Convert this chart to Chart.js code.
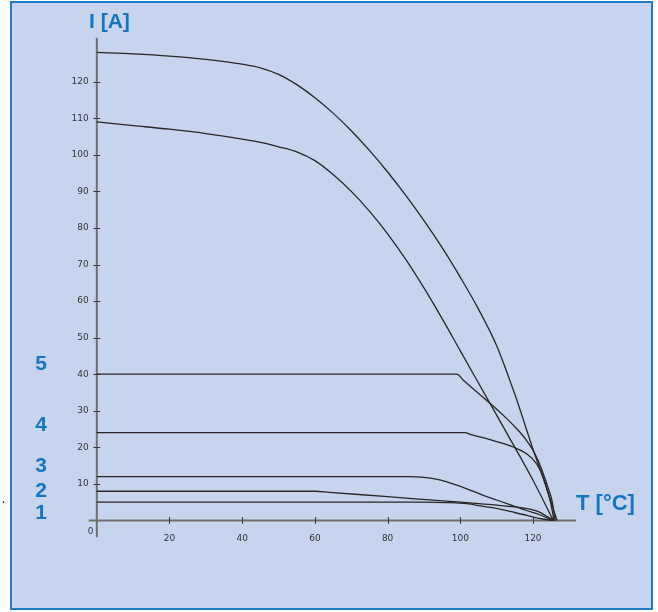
<!DOCTYPE html>
<html>
<head>
<meta charset="utf-8">
<script src="https://cdn.jsdelivr.net/npm/chart.js@4.4.0/dist/chart.umd.min.js"></script>
<style>
body{margin:0;background:#fff;width:658px;height:612px;overflow:hidden;position:relative}
#panel{position:absolute;left:10px;top:1px;width:639px;height:605px;border:2px solid #1f7bc4;background:#c6d5ed}
#c{position:absolute;left:0;top:0}
</style>
</head>
<body>
<div id="panel"></div>
<canvas id="c" width="658" height="612"></canvas>
<script>
// tick labels
var xTicks = [20, 40, 60, 80, 100, 120];
var yTicks = [10, 20, 30, 40, 50, 60, 70, 80, 90, 100, 110, 120];

// curves, [T in °C, I in A]
var curveA = [[0,128],[10,127.6],[20,127],[30,126.1],[40,124.8],[45,123.8],[50,122],[55,119.2],[60,115.6],[65,111.4],[70,106.6],[75,101.2],[80,95.3],[85,88.9],[90,82],[95,74.6],[100,66.5],[105,57.8],[110,47.8],[115,34.5],[120,19.5],[123,11],[126.6,0]];
var curveB = [[0,109],[10,108],[20,107],[30,105.8],[40,104.3],[45,103.4],[50,102.2],[55,100.8],[60,98.4],[65,94.6],[70,90],[75,84.6],[80,78.4],[85,71.4],[90,63.6],[95,55.2],[100,46.4],[105,37.6],[110,28.8],[115,20],[120,11],[125.6,0]];
var curve5 = [[0,40],[99,40],[101,38.2],[104,35.6],[108,32.2],[112,28.6],[115.5,25.1],[118,22.2],[120,19.2],[121.5,16.2],[123,12.3],[124.3,8.5],[125.2,5.5],[126.1,0]];
var curve4 = [[0,24],[101.3,24],[103,23.5],[108.2,22.1],[114.6,20.1],[118.3,18.2],[121,15.5],[122.8,11.9],[124.7,5.5],[125.8,0]];
var curve3 = [[0,12],[86,12],[90,11.8],[94,11.2],[98,10],[102,8.6],[106,7],[110,5.6],[114,4.2],[118,2.8],[122,1.5],[125.6,0]];
var curve2 = [[0,8],[60,8],[64,7.7],[80,6.5],[100,5],[105,4.6],[110,4.2],[115,3.7],[119,3.1],[121.5,2.4],[123.5,1.3],[125.8,0]];
var curve1 = [[0,5],[90,5],[96,4.9],[101.8,4.6],[106,3.9],[110.9,3.1],[114,2.4],[118.3,1.4],[121,0.7],[124,0.2],[125.5,0]];

var curveLabels = ['1', '2', '3', '4', '5'];
var curveLabelY = [519, 496.5, 471.5, 431, 369.5]; // baselines in px

function pts(a) {
    return a.map(function (p) { return {x: p[0], y: p[1]}; });
}

var axesPlugin = {
    id: 'axes',
    beforeDatasetsDraw: function (chart) {
        var ctx = chart.ctx, sx = chart.scales.x, sy = chart.scales.y;
        var x0 = sx.getPixelForValue(0), y0 = sy.getPixelForValue(0);
        ctx.save();
        // axis lines
        ctx.strokeStyle = '#6e6e6e';
        ctx.lineWidth = 2;
        ctx.beginPath();
        ctx.moveTo(x0, sy.top); ctx.lineTo(x0, sy.bottom);
        ctx.moveTo(sx.left, y0); ctx.lineTo(sx.right, y0);
        ctx.stroke();
        // tick marks
        ctx.strokeStyle = '#3a3a3a';
        ctx.lineWidth = 1;
        ctx.beginPath();
        yTicks.forEach(function (v) {
            var py = Math.round(sy.getPixelForValue(v)) + 0.5;
            ctx.moveTo(x0 - 3.5, py); ctx.lineTo(x0 + 3.5, py);
        });
        xTicks.forEach(function (v) {
            var px = Math.round(sx.getPixelForValue(v)) + 0.5;
            ctx.moveTo(px, y0 - 3.5); ctx.lineTo(px, y0 + 3.5);
        });
        ctx.stroke();
        // tick labels
        ctx.fillStyle = '#333';
        ctx.font = '9px "DejaVu Sans"';
        ctx.textAlign = 'right';
        ctx.textBaseline = 'middle';
        yTicks.forEach(function (v) {
            ctx.fillText(String(v), x0 - 8, sy.getPixelForValue(v));
        });
        ctx.textAlign = 'center';
        xTicks.forEach(function (v) {
            ctx.fillText(String(v), sx.getPixelForValue(v), y0 + 18);
        });
        ctx.fillText('0', x0 - 6.3, y0 + 11);
        ctx.restore();
    },
    afterDraw: function (chart) {
        var ctx = chart.ctx;
        ctx.save();
        ctx.fillStyle = '#1576c0';
        ctx.textBaseline = 'alphabetic';
        ctx.textAlign = 'left';
        ctx.font = 'bold 21px "Liberation Sans"';
        ctx.fillText('I [A]', 89, 27.5);
        ctx.font = 'bold 22px "Liberation Sans"';
        ctx.fillText('T [°C]', 576, 509.5);
        ctx.font = 'bold 21px "Liberation Sans"';
        ctx.textAlign = 'center';
        curveLabels.forEach(function (t, i) {
            ctx.fillText(t, 41, curveLabelY[i]);
        });
        ctx.fillStyle = '#222';
        ctx.font = '14px "Liberation Sans"';
        ctx.textAlign = 'left';
        ctx.fillText('.', 1.5, 503);
        ctx.restore();
    }
};

var myChart = new Chart(document.getElementById('c').getContext('2d'), {
    type: 'line',
    data: {
        datasets: [curveA, curveB, curve5, curve4, curve3, curve2, curve1].map(function (c) {
            return {data: pts(c)};
        })
    },
    options: {
        responsive: false,
        animation: false,
        devicePixelRatio: 1,
        layout: {padding: {left: 88.8, right: 82.1, top: 37.8, bottom: 74.7}},
        plugins: {legend: {display: false}, tooltip: {enabled: false}},
        scales: {
            x: {type: 'linear', display: false, min: -2.2, max: 131.8},
            y: {type: 'linear', display: false, min: -4.6, max: 132}
        },
        elements: {
            point: {radius: 0},
            line: {borderWidth: 1.3, borderColor: '#262626', cubicInterpolationMode: 'monotone', fill: false}
        }
    },
    plugins: [axesPlugin]
});
</script>
</body>
</html>
